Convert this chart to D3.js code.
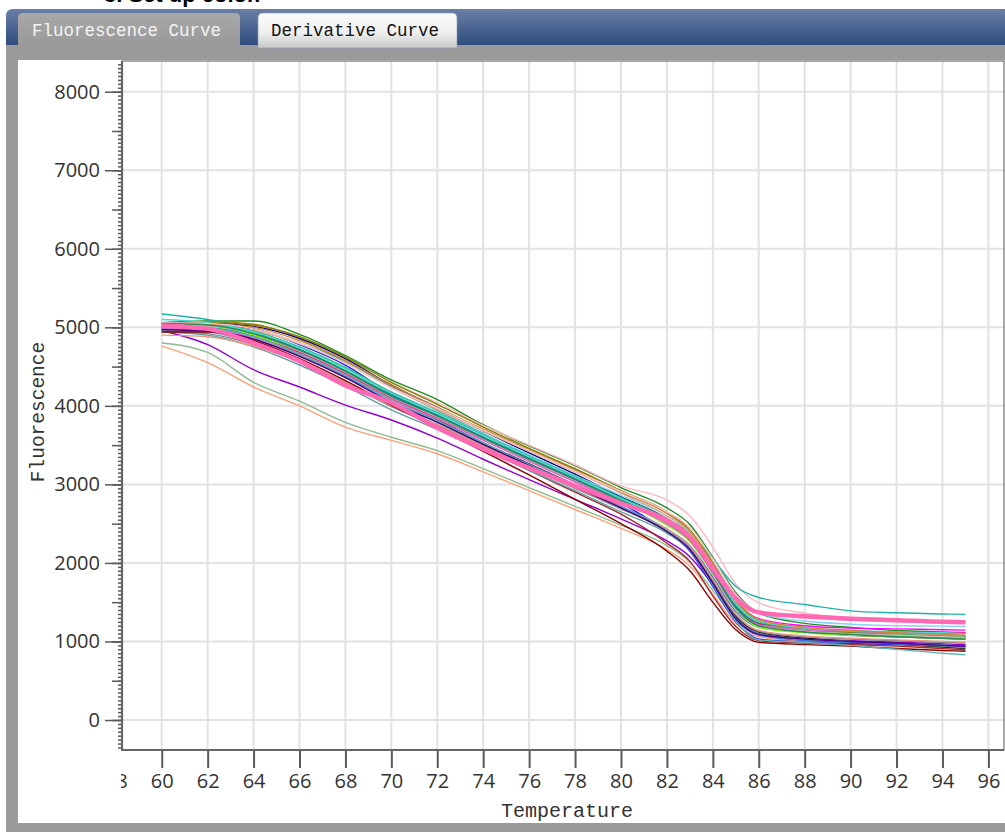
<!DOCTYPE html>
<html>
<head>
<meta charset="utf-8">
<script src="https://cdn.jsdelivr.net/npm/d3@7/dist/d3.min.js"></script>
<style>
  html, body { margin: 0; padding: 0; background: #fff; }
  svg { display: block; }
</style>
</head>
<body>
<svg id="chart" width="1005" height="832"></svg>
<script>
// ---------------- data ----------------
const temps = [60, 62, 64, 66, 68, 70, 72, 74, 76, 78, 80, 82, 83, 84, 85, 86, 88, 90, 92, 94, 95];

const xTickValues = [58, 60, 62, 64, 66, 68, 70, 72, 74, 76, 78, 80, 82, 84, 86, 88, 90, 92, 94, 96];
const yTickValues = [0, 1000, 2000, 3000, 4000, 5000, 6000, 7000, 8000];
const tabLabels = ["Fluorescence Curve", "Derivative Curve"];
const xTitle = "Temperature";
const yTitle = "Fluorescence";

const sGreen      = [5060, 5080, 5080, 4910, 4640, 4330, 4080, 3760, 3490, 3240, 2960, 2700, 2490, 2070, 1620, 1360, 1230, 1180, 1140, 1120, 1110];
const sGoldenrod  = [5050, 5070, 5040, 4850, 4560, 4270, 3960, 3700, 3440, 3190, 2900, 2640, 2400, 2000, 1530, 1280, 1150, 1110, 1080, 1060, 1060];
const sLightPink  = [5030, 5060, 5020, 4860, 4620, 4300, 4040, 3750, 3500, 3250, 2980, 2800, 2600, 2200, 1730, 1490, 1360, 1300, 1280, 1260, 1250];
const sTeal       = [5170, 5100, 4980, 4800, 4560, 4240, 3940, 3650, 3360, 3100, 2820, 2560, 2380, 2050, 1700, 1560, 1470, 1390, 1365, 1350, 1345];
const sPurple     = [4960, 4780, 4460, 4240, 4010, 3820, 3590, 3320, 3060, 2810, 2560, 2280, 2080, 1720, 1320, 1100, 1040, 1010, 990, 970, 960];
const sSalmon     = [4760, 4550, 4240, 4000, 3730, 3560, 3390, 3160, 2920, 2680, 2440, 2170, 1960, 1600, 1230, 1060, 1000, 970, 950, 930, 920];
const sSeaGreenL  = [4800, 4680, 4300, 4060, 3790, 3600, 3430, 3200, 2960, 2720, 2480, 2220, 2010, 1650, 1280, 1090, 1020, 990, 970, 950, 940];
const sNavy       = [5000, 5050, 5010, 4860, 4600, 4260, 3980, 3680, 3400, 3130, 2840, 2560, 2330, 1900, 1430, 1200, 1120, 1080, 1060, 1040, 1030];
const sBlue       = [4980, 5030, 4980, 4780, 4520, 4150, 3880, 3600, 3310, 3040, 2760, 2400, 2150, 1700, 1250, 1030, 990, 975, 960, 950, 945];
const sBlack      = [4970, 5000, 4900, 4700, 4430, 4100, 3820, 3530, 3260, 2990, 2700, 2400, 2170, 1760, 1320, 1120, 1040, 1000, 970, 930, 910];
const sBrown      = [4950, 4960, 4880, 4650, 4380, 4050, 3750, 3460, 3180, 2900, 2620, 2250, 2020, 1580, 1190, 1010, 980, 960, 940, 910, 895];
const sSteelBlue  = [5000, 4950, 4800, 4570, 4300, 4000, 3760, 3500, 3230, 2960, 2700, 2430, 2220, 1820, 1380, 1180, 1120, 1090, 1070, 1060, 1050];
const sGray       = [5010, 4980, 4850, 4640, 4380, 4090, 3850, 3580, 3320, 3060, 2800, 2520, 2310, 1900, 1450, 1230, 1140, 1100, 1080, 1060, 1050];
const sLightBlue  = [5020, 5030, 4950, 4750, 4480, 4180, 3920, 3640, 3380, 3110, 2860, 2600, 2400, 2000, 1570, 1360, 1260, 1220, 1200, 1195, 1190];
const sMagenta    = [5000, 5010, 4930, 4720, 4440, 4120, 3880, 3600, 3330, 3070, 2800, 2560, 2350, 1950, 1500, 1290, 1200, 1170, 1160, 1150, 1145];
const sDarkCyan   = [5060, 5050, 4930, 4720, 4450, 4140, 3880, 3600, 3340, 3080, 2810, 2530, 2320, 1900, 1450, 1230, 1150, 1120, 1090, 1060, 1050];
const sLime       = [4990, 5000, 4900, 4680, 4400, 4090, 3840, 3570, 3300, 3040, 2780, 2480, 2270, 1860, 1420, 1180, 1110, 1080, 1060, 1040, 1030];
const sCadet      = [4940, 4900, 4750, 4520, 4250, 3950, 3700, 3440, 3180, 2920, 2650, 2380, 2160, 1740, 1300, 1100, 1030, 1000, 970, 940, 920];
const sTan        = [4990, 5020, 4960, 4790, 4550, 4230, 3950, 3680, 3420, 3160, 2890, 2600, 2380, 1960, 1500, 1270, 1180, 1140, 1110, 1080, 1070];
const sDeepPink   = [4980, 4960, 4870, 4680, 4410, 4100, 3840, 3570, 3300, 3040, 2780, 2500, 2290, 1880, 1430, 1220, 1150, 1130, 1120, 1110, 1110];
const sSlateGray  = [4960, 4920, 4780, 4560, 4290, 3990, 3740, 3480, 3210, 2950, 2690, 2420, 2200, 1780, 1340, 1130, 1060, 1030, 1010, 990, 980];
const sMedSea     = [5040, 5040, 4950, 4750, 4490, 4170, 3910, 3630, 3360, 3100, 2830, 2560, 2350, 1940, 1480, 1250, 1160, 1120, 1090, 1070, 1060];
const sOlive      = [5030, 5060, 5030, 4880, 4620, 4300, 4020, 3730, 3460, 3200, 2920, 2650, 2420, 2000, 1530, 1260, 1150, 1110, 1080, 1060, 1050];
const sRoyalBlue  = [4990, 4990, 4880, 4660, 4380, 4060, 3800, 3520, 3250, 2990, 2720, 2420, 2180, 1740, 1280, 1080, 1010, 990, 970, 950, 945];
const sDarkSalmon = [4900, 4880, 4760, 4560, 4300, 4000, 3760, 3490, 3220, 2960, 2700, 2430, 2210, 1790, 1350, 1140, 1070, 1040, 1020, 1000, 990];
const sSilver     = [5040, 5020, 4920, 4700, 4430, 4110, 3860, 3580, 3310, 3050, 2790, 2520, 2300, 1880, 1420, 1200, 1130, 1100, 1080, 1060, 1050];
const sTurquoise  = [5100, 5060, 4940, 4740, 4470, 4160, 3900, 3620, 3350, 3090, 2820, 2540, 2330, 1920, 1480, 1260, 1170, 1140, 1120, 1110, 1100];
const sDarkRed    = [4940, 4940, 4830, 4600, 4320, 4010, 3720, 3420, 3120, 2810, 2500, 2150, 1900, 1500, 1150, 990, 960, 940, 910, 885, 875];
const sOrchid     = [4990, 4980, 4870, 4660, 4390, 4080, 3830, 3560, 3290, 3030, 2770, 2500, 2290, 1870, 1420, 1210, 1150, 1130, 1110, 1100, 1100];
const sPeru       = [5000, 5040, 5000, 4830, 4580, 4260, 3980, 3700, 3440, 3180, 2900, 2630, 2410, 1990, 1520, 1280, 1180, 1140, 1110, 1090, 1080];
const sTealLow    = [5010, 4990, 4880, 4660, 4390, 4070, 3810, 3530, 3250, 2980, 2710, 2410, 2170, 1720, 1260, 1020, 990, 950, 900, 850, 830];
const sPink2      = [5060, 5050, 4980, 4800, 4540, 4230, 3970, 3690, 3430, 3170, 2910, 2650, 2450, 2050, 1600, 1380, 1300, 1270, 1250, 1240, 1235];
const sSeaGreen   = [5050, 5030, 4920, 4710, 4440, 4120, 3870, 3590, 3320, 3060, 2790, 2520, 2300, 1890, 1430, 1200, 1120, 1090, 1060, 1040, 1030];
const sIndigo     = [4970, 4950, 4850, 4630, 4360, 4040, 3790, 3510, 3240, 2970, 2700, 2400, 2170, 1740, 1290, 1090, 1030, 1000, 980, 950, 940];
const sHotPink    = [5020, 4980, 4800, 4570, 4260, 4040, 3720, 3450, 3210, 2980, 2760, 2540, 2330, 1930, 1550, 1370, 1320, 1290, 1270, 1250, 1245];

const seriesValues = [sGreen, sGoldenrod, sLightPink, sTeal, sPurple, sSalmon, sSeaGreenL, sNavy, sBlue, sBlack,
  sBrown, sSteelBlue, sGray, sLightBlue, sMagenta, sDarkCyan, sLime, sCadet, sTan, sDeepPink, sSlateGray,
  sMedSea, sOlive, sRoyalBlue, sDarkSalmon, sSilver, sTurquoise, sDarkRed, sOrchid, sPeru, sTealLow, sPink2,
  sSeaGreen, sIndigo, sHotPink];
const seriesColors = ["#1e8c1e", "#b8860b", "#ffb6c1", "#20b2aa", "#9400d3", "#ffa07a", "#8fbc8f", "#000080", "#1f1fff", "#111111",
  "#a52a2a", "#4682b4", "#808080", "#87cefa", "#ff00ff", "#008b8b", "#7cfc00", "#5f9ea0", "#d2b48c", "#ff1493", "#708090",
  "#3cb371", "#808000", "#4169e1", "#e9967a", "#c0c0c0", "#40e0d0", "#8b0000", "#da70d6", "#cd853f", "#5fb4b4", "#ffc0cb",
  "#2e8b57", "#4b0082", "#ff69b4"];
const seriesWidths = seriesValues.map((s, i) => i === seriesValues.length - 1 ? 4.5 : 1.4);

// ---------------- layout ----------------
const svg = d3.select("#chart");
const W = 1005, H = 832;
const plot = { left: 122, top: 61, right: 1004, bottom: 750 };

const x = d3.scaleLinear().domain([58.27, 96.68]).range([plot.left, plot.right]);
const y = d3.scaleLinear().domain([-382, 8391]).range([plot.bottom, plot.top]);

const defs = svg.append("defs");
const gBlue = defs.append("linearGradient").attr("id", "gBlue").attr("x1", 0).attr("y1", 0).attr("x2", 0).attr("y2", 1);
gBlue.append("stop").attr("offset", "0%").attr("stop-color", "#6c80a6");
gBlue.append("stop").attr("offset", "100%").attr("stop-color", "#2c4a7c");
const gTab = defs.append("linearGradient").attr("id", "gTab").attr("x1", 0).attr("y1", 0).attr("x2", 0).attr("y2", 1);
gTab.append("stop").attr("offset", "0%").attr("stop-color", "#fbfbfb");
gTab.append("stop").attr("offset", "55%").attr("stop-color", "#f0f0f0");
gTab.append("stop").attr("offset", "100%").attr("stop-color", "#c8c8c8");
const gTabA = defs.append("linearGradient").attr("id", "gTabA").attr("x1", 0).attr("y1", 0).attr("x2", 0).attr("y2", 1);
gTabA.append("stop").attr("offset", "0%").attr("stop-color", "#a8a8a8");
gTabA.append("stop").attr("offset", "100%").attr("stop-color", "#999999");

defs.append("clipPath").attr("id", "plotClip").append("rect")
  .attr("x", plot.left).attr("y", plot.top).attr("width", plot.right - plot.left).attr("height", plot.bottom - plot.top);
defs.append("clipPath").attr("id", "xAxisClip").append("rect")
  .attr("x", 121).attr("y", plot.bottom - 2).attr("width", W - 121).attr("height", 60);

// background
svg.append("rect").attr("width", W).attr("height", H).attr("fill", "#ffffff");

// cut-off heading text at very top (cut in the reference too)
svg.append("text").attr("x", 104).attr("y", 2).attr("font-family", "Arial, 'Liberation Sans', sans-serif")
  .attr("font-size", 22).attr("font-weight", "bold").attr("fill", "#000").text("3. Set up color.");

// blue header bar
svg.append("path")
  .attr("d", "M6,46 L6,16 Q6,9 13,9 L1005,9 L1005,46 Z")
  .attr("fill", "url(#gBlue)");

// gray frame
svg.append("rect").attr("x", 6).attr("y", 45).attr("width", W - 6).attr("height", H - 45).attr("fill", "#9a9a9a");
svg.append("rect").attr("x", 18).attr("y", 60).attr("width", W - 18).attr("height", 823 - 60).attr("fill", "#ffffff");

// tabs
svg.append("path").attr("d", "M18,46 L18,18 Q18,13 23,13 L235,13 Q240,13 240,18 L240,46 Z")
  .attr("fill", "url(#gTabA)");
svg.append("path").attr("d", "M258,48 L258,18 Q258,13 263,13 L452,13 Q457,13 457,18 L457,48 Z")
  .attr("fill", "url(#gTab)").attr("stroke", "#8a9ab5").attr("stroke-width", 0.6);
svg.append("text").attr("x", 32).attr("y", 36).attr("font-family", "'Liberation Mono', 'DejaVu Sans Mono', monospace")
  .attr("font-size", 17.5).attr("fill", "#f4f4f4").text(tabLabels[0]);
svg.append("text").attr("x", 271).attr("y", 36).attr("font-family", "'Liberation Mono', 'DejaVu Sans Mono', monospace")
  .attr("font-size", 17.5).attr("fill", "#111").text(tabLabels[1]);

// grid
const grid = svg.append("g").attr("clip-path", "url(#plotClip)");
grid.selectAll("line.vg").data(xTickValues).join("line")
  .attr("x1", d => x(d)).attr("x2", d => x(d)).attr("y1", plot.top).attr("y2", plot.bottom)
  .attr("stroke", "#e2e2e2").attr("stroke-width", 2);
grid.selectAll("line.hg").data(yTickValues).join("line")
  .attr("x1", plot.left).attr("x2", plot.right).attr("y1", d => y(d)).attr("y2", d => y(d))
  .attr("stroke", "#e2e2e2").attr("stroke-width", 2);

// curves
const line = d3.line().x((d, i) => x(temps[i])).y(d => y(d)).curve(d3.curveMonotoneX);
const curves = svg.append("g").attr("clip-path", "url(#plotClip)");
curves.selectAll("path").data(seriesValues).join("path")
  .attr("d", d => line(d))
  .attr("fill", "none")
  .attr("stroke", (d, i) => seriesColors[i])
  .attr("stroke-width", (d, i) => seriesWidths[i])
  .attr("stroke-linejoin", "round");

// frame top/right
svg.append("rect").attr("x", plot.left).attr("y", plot.top).attr("width", plot.right - plot.left).attr("height", plot.bottom - plot.top)
  .attr("fill", "none").attr("stroke", "#555").attr("stroke-width", 1);

// y axis (minor, medium, major)
const yMinor = d3.range(-350, 8400, 50);
const yMedium = d3.range(-0, 8400, 500);
const axisFont = "'Open Sans', 'Noto Sans', sans-serif";
const gyMinor = svg.append("g").attr("transform", `translate(${plot.left},0)`)
  .call(d3.axisLeft(y).tickValues(yMinor).tickSize(4).tickSizeOuter(0).tickFormat(""));
const gyMed = svg.append("g").attr("transform", `translate(${plot.left},0)`)
  .call(d3.axisLeft(y).tickValues(yMedium).tickSize(10).tickSizeOuter(0).tickFormat(""));
const gy = svg.append("g").attr("transform", `translate(${plot.left},0)`)
  .call(d3.axisLeft(y).tickValues(yTickValues).tickSize(17).tickSizeOuter(0).tickPadding(5).tickFormat(d3.format("d")));
[gyMinor, gyMed, gy].forEach(g => {
  g.select(".domain").remove();
  g.selectAll(".tick line").attr("stroke", "#5a5a5a").attr("stroke-width", 1.5);
});
gy.selectAll(".tick text").attr("font-family", axisFont).attr("font-size", 20).attr("fill", "#333");
svg.append("line").attr("x1", plot.left).attr("x2", plot.left).attr("y1", plot.top).attr("y2", plot.bottom + 1)
  .attr("stroke", "#666").attr("stroke-width", 2.2);

// x axis
const gx = svg.append("g").attr("clip-path", "url(#xAxisClip)").append("g")
  .attr("transform", `translate(0,${plot.bottom})`)
  .call(d3.axisBottom(x).tickValues(xTickValues).tickSize(18).tickSizeOuter(0).tickPadding(6).tickFormat(d3.format("d")));
gx.select(".domain").remove();
gx.selectAll(".tick line").attr("stroke", "#5a5a5a").attr("stroke-width", 2);
gx.selectAll(".tick text").attr("font-family", axisFont).attr("font-size", 20).attr("fill", "#333");
svg.append("line").attr("x1", plot.left - 1).attr("x2", plot.right).attr("y1", plot.bottom).attr("y2", plot.bottom)
  .attr("stroke", "#666").attr("stroke-width", 2.2);

// axis titles
svg.append("text").attr("x", 567).attr("y", 817).attr("text-anchor", "middle")
  .attr("font-family", "'Liberation Mono', 'DejaVu Sans Mono', monospace").attr("font-size", 20).attr("fill", "#333")
  .text(xTitle);
svg.append("text").attr("transform", "translate(44,412) rotate(-90)").attr("text-anchor", "middle")
  .attr("font-family", "'Liberation Mono', 'DejaVu Sans Mono', monospace").attr("font-size", 19.5).attr("fill", "#333")
  .text(yTitle);
</script>
</body>
</html>
